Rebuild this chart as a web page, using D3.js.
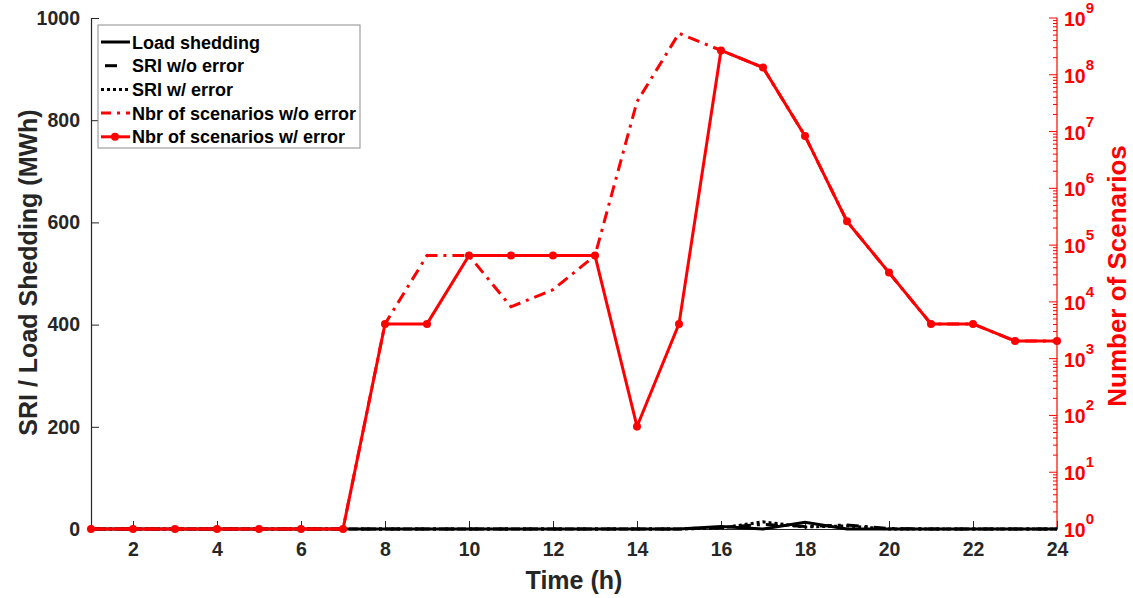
<!DOCTYPE html>
<html>
<head>
<meta charset="utf-8">
<script src="https://cdn.jsdelivr.net/npm/d3@7"></script>
<style>
  body { margin: 0; background: #fff; }
  svg { display: block; font-family: "Liberation Sans", Arial, sans-serif; font-weight: bold; }
</style>
</head>
<body>
<svg id="chart" width="1133" height="598"></svg>
<script>
// Hours of the day
const hours = d3.range(1, 25);

// Left axis (MWh)
const loadShedding = [0,0,0,0,0,0,0,0,0,0,0,0,0,0,0,5,0,13,0,0,0,0,0,0];
const sriNoError   = [0,0,0,0,0,0,0,0,0,0,0,0,0,0,0,3,9,5,8,1,0,0,0,0];
const sriError     = [0,0,0,0,0,0,0,0,0,0,0,0,0,0,0,2,14,4,6,0,0,0,0,0];

// Right axis (number of scenarios, log scale)
const scenNoError = [1,1,1,1,1,1,1,4096,65536,65536,8192,16384,65536,33554432,536870912,
                     268435456,134217728,8388608,262144,32768,4096,4096,2048,2048];
const scenError   = [1,1,1,1,1,1,1,4096,4096,65536,65536,65536,65536,64,4096,
                     268435456,134217728,8388608,262144,32768,4096,4096,2048,2048];

const xTicks = d3.range(2, 25, 2);
const yLeftTicks = [0, 200, 400, 600, 800, 1000];
const yRightExps = d3.range(0, 10);

const legendItems = [
  { label: "Load shedding", color: "#000", dash: null, marker: false },
  { label: "SRI w/o error", color: "#000", dash: "12,20", marker: false, offset: 4 },
  { label: "SRI w/ error", color: "#000", dash: "3,3", marker: false },
  { label: "Nbr of scenarios w/o error", color: "#ff0000", dash: "10,6,3,6", marker: false },
  { label: "Nbr of scenarios w/ error", color: "#ff0000", dash: null, marker: true }
];

const svg = d3.select("#chart");
const L = 91, R = 1057, T = 18, B = 529;

const x = d3.scaleLinear().domain([1, 24]).range([L, R]);
const yL = d3.scaleLinear().domain([0, 1000]).range([B, T]);
const yR = d3.scaleLog().domain([1, 1e9]).range([B, T]);

const tickColor = "#262626";
const tickFont = 19.5;

// Bottom axis
const xAxis = svg.append("g").attr("transform", `translate(0,${B})`)
  .call(d3.axisBottom(x).tickValues(xTicks).tickFormat(d3.format("d"))
    .tickSizeInner(-8).tickSizeOuter(0).tickPadding(13));
xAxis.select(".domain").attr("stroke", tickColor).attr("stroke-width", 1.2);
xAxis.selectAll(".tick line").attr("stroke", tickColor);
xAxis.selectAll("text").attr("fill", tickColor).attr("font-size", tickFont).attr("font-weight", "bold")
  .attr("font-family", "Liberation Sans, Arial, sans-serif");

// Left axis
const yAxisL = svg.append("g").attr("transform", `translate(${L},0)`)
  .call(d3.axisLeft(yL).tickValues(yLeftTicks).tickFormat(d3.format("d"))
    .tickSizeInner(-8).tickSizeOuter(0).tickPadding(11));
yAxisL.select(".domain").attr("stroke", tickColor).attr("stroke-width", 1.2);
yAxisL.selectAll(".tick line").attr("stroke", tickColor);
yAxisL.selectAll("text").attr("fill", tickColor).attr("font-size", tickFont).attr("font-weight", "bold")
  .attr("font-family", "Liberation Sans, Arial, sans-serif");

// Right axis (log) with minor ticks
const yAxisR = svg.append("g").attr("transform", `translate(${R},0)`);
yAxisR.append("line").attr("x1", 0).attr("x2", 0).attr("y1", T).attr("y2", B)
  .attr("stroke", "#ff0000").attr("stroke-width", 1.2);
yRightExps.forEach(e => {
  yAxisR.append("line").attr("x1", 0).attr("x2", -8)
    .attr("y1", yR(Math.pow(10, e))).attr("y2", yR(Math.pow(10, e)))
    .attr("stroke", "#ff0000").attr("stroke-width", 1);
  if (e < 9) {
    for (let m = 2; m <= 9; m++) {
      const v = m * Math.pow(10, e);
      yAxisR.append("line").attr("x1", 0).attr("x2", -4)
        .attr("y1", yR(v)).attr("y2", yR(v))
        .attr("stroke", "#ff0000").attr("stroke-width", 1);
    }
  }
  const t = yAxisR.append("text").attr("x", 7).attr("y", yR(Math.pow(10, e)) + 8)
    .attr("fill", "#ff0000").attr("font-size", 19.5);
  t.append("tspan").text("10");
  t.append("tspan").attr("dy", -13).attr("font-size", 15).text(e);
});

// Axis titles
svg.append("text").attr("x", x(12.5)).attr("y", 589).attr("text-anchor", "middle")
  .attr("fill", tickColor).attr("font-size", 25).text("Time (h)");
svg.append("text").attr("transform", `translate(37,${(T + B) / 2 - 1}) rotate(-90)`)
  .attr("text-anchor", "middle").attr("fill", tickColor).attr("font-size", 25)
  .text("SRI / Load Shedding (MWh)");
svg.append("text").attr("transform", `translate(1126,${(145 + 407) / 2}) rotate(-90)`)
  .attr("text-anchor", "middle").attr("fill", "#ff0000").attr("font-size", 26)
  .text("Number of Scenarios");

// Series lines
const lineL = d3.line().x((d, i) => x(hours[i])).y(d => yL(d));
const lineR = d3.line().x((d, i) => x(hours[i])).y(d => yR(d));

svg.append("path").datum(sriNoError).attr("d", lineL)
  .attr("fill", "none").attr("stroke", "#000").attr("stroke-width", 3).attr("stroke-dasharray", "12,6,3,6");
svg.append("path").datum(sriError).attr("d", lineL)
  .attr("fill", "none").attr("stroke", "#000").attr("stroke-width", 3).attr("stroke-dasharray", "3,3");
svg.append("path").datum(loadShedding).attr("d", lineL)
  .attr("fill", "none").attr("stroke", "#000").attr("stroke-width", 3);

svg.append("path").datum(scenNoError).attr("d", lineR)
  .attr("fill", "none").attr("stroke", "#ff0000").attr("stroke-width", 3)
  .attr("stroke-dasharray", "12,6,3,6");
svg.append("path").datum(scenError).attr("d", lineR)
  .attr("fill", "none").attr("stroke", "#ff0000").attr("stroke-width", 3);
svg.append("g").selectAll("circle").data(scenError).join("circle")
  .attr("cx", (d, i) => x(hours[i])).attr("cy", d => yR(d)).attr("r", 4)
  .attr("fill", "#ff0000");

// Legend
const lg = svg.append("g");
lg.append("rect").attr("x", 98).attr("y", 25).attr("width", 262).attr("height", 123)
  .attr("fill", "#fff").attr("stroke", "#8c8c8c").attr("stroke-width", 1);
legendItems.forEach((it, i) => {
  const cy = 42 + i * 23.7;
  lg.append("line").attr("x1", 101 + (it.offset || 0)).attr("x2", 130).attr("y1", cy).attr("y2", cy)
    .attr("stroke", it.color).attr("stroke-width", 3)
    .attr("stroke-dasharray", it.dash);
  if (it.marker) lg.append("circle").attr("cx", 115).attr("cy", cy).attr("r", 4).attr("fill", it.color);
  lg.append("text").attr("x", 132).attr("y", cy + 6.5).attr("fill", "#000").attr("font-size", 18)
    .text(it.label);
});
</script>
</body>
</html>
